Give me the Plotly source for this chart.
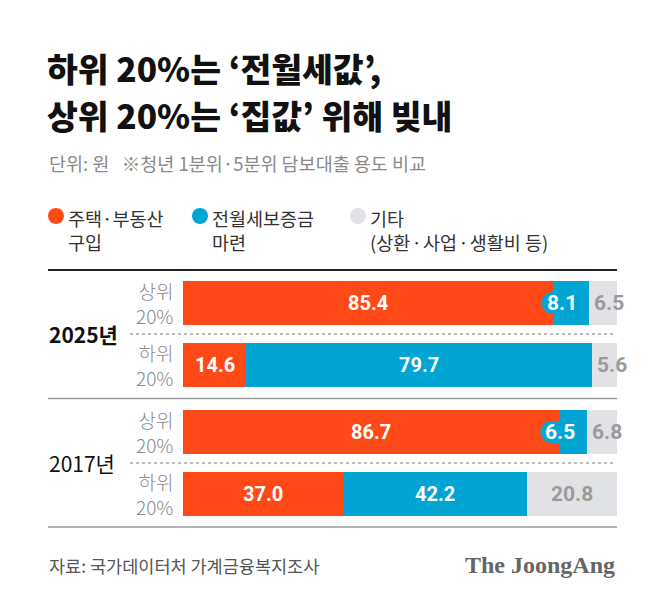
import plotly.graph_objects as go

# ---------------- data ----------------
groups = ["2025년", "2017년"]
row_labels = ["상위<br>20%", "하위<br>20%"]
series_names = ["주택·부동산<br>구입", "전월세보증금<br>마련", "기타<br>(상환\u200a·\u200a사업\u200a·\u200a생활비 등)"]
housing = [85.4, 14.6, 86.7, 37.0]      # 주택·부동산 구입
jeonse = [8.1, 79.7, 6.5, 42.2]         # 전월세보증금 마련
other = [6.5, 5.6, 6.8, 20.8]           # 기타
row_group = [0, 0, 1, 1]
row_in_group = [0, 1, 0, 1]

title_lines = ["하위 20%는 ‘전월세값’,", "상위 20%는 ‘집값’ 위해 빚내"]
subtitle = "단위: 원   ※청년 1분위·5분위 담보대출 용도 비교"
source = "자료: 국가데이터처 가계금융복지조사"
logo = "The JoongAng"

# ---------------- style ----------------
W, H = 650, 597
C_ORANGE = "#FF4A17"
C_BLUE = "#00A5D3"
C_GRAY = "#E1E2E5"
KR = "Noto Sans CJK KR"
NUM = "Roboto"
GROUP_EXTRA = 0.08
BAR_W = 0.71


def px(x):
    return x / W


def py(y):
    return 1 - y / H


series = [housing, jeonse, other]
colors = [C_ORANGE, C_BLUE, C_GRAY]
pos = [row_in_group[i] + row_group[i] * (2 + GROUP_EXTRA) for i in range(len(housing))]

fig = go.Figure()
for vals, col, name in zip(series, colors, series_names):
    fig.add_trace(go.Bar(
        x=vals, y=pos, orientation="h", width=BAR_W,
        marker=dict(color=col, line=dict(width=0)),
        name=name, showlegend=False, hoverinfo="skip",
    ))

annotations = []
shapes = []

# value labels
for i in range(len(pos)):
    start = 0.0
    for s, (vals, col) in enumerate(zip(series, colors)):
        v = vals[i]
        mid = start + v / 2
        end = start + v
        txt = f"{v:.1f}"
        if s == 2:
            if v < 10:
                annotations.append(dict(x=start, y=pos[i], xref="x", yref="y", text=txt,
                                        xanchor="left", xshift=3, showarrow=False,
                                        font=dict(family=NUM, size=21, color="#9A9A9A", weight="bold")))
            else:
                annotations.append(dict(x=mid, y=pos[i], xref="x", yref="y", text=txt,
                                        showarrow=False,
                                        font=dict(family=NUM, size=21, color="#9A9A9A", weight="bold")))
        elif s == 1 and v < 10:
            # rounded pill behind the label (pixel-sized, anchored to segment end)
            r = 11
            x0, x1 = -47, -6
            shapes.append(dict(type="rect", xref="x", yref="y", xsizemode="pixel", ysizemode="pixel",
                               xanchor=end, yanchor=pos[i], x0=x0 + r, x1=x1, y0=-r, y1=r,
                               fillcolor=col, line=dict(width=0), layer="above"))
            shapes.append(dict(type="circle", xref="x", yref="y", xsizemode="pixel", ysizemode="pixel",
                               xanchor=end, yanchor=pos[i], x0=x0, x1=x0 + 2 * r, y0=-r, y1=r,
                               fillcolor=col, line=dict(width=0), layer="above"))
            annotations.append(dict(x=end, y=pos[i], xref="x", yref="y", text=txt,
                                    xanchor="center", xshift=-27, showarrow=False,
                                    font=dict(family=NUM, size=21, color="white", weight="bold")))
        else:
            annotations.append(dict(x=mid, y=pos[i], xref="x", yref="y", text=txt,
                                    showarrow=False,
                                    font=dict(family=NUM, size=20, color="white", weight="bold")))
        start = end

# row labels
for i in range(len(pos)):
    annotations.append(dict(x=px(167), y=pos[i], xref="paper", yref="y",
                            text=row_labels[row_in_group[i]], xanchor="right", align="right",
                            showarrow=False, font=dict(family=KR, size=19, color="#8A8A8A", weight=300)))

# group labels
for g, name in enumerate(groups):
    gy = 0.5 + g * (2 + GROUP_EXTRA)
    annotations.append(dict(x=px(39), y=gy, xref="paper", yref="y", text=name,
                            xanchor="left", showarrow=False,
                            font=dict(family=KR, size=21, color="#111",
                                      weight="bold" if g == 0 else "normal")))
    # dotted separator inside group
    shapes.append(dict(type="line", xref="paper", yref="y", x0=px(122), x1=px(608), y0=gy, y1=gy,
                       line=dict(color="#A8A8A8", width=1.5, dash="dot")))

# rules
shapes.append(dict(type="line", xref="paper", yref="paper", x0=px(40), x1=px(609), y0=py(262), y1=py(262),
                   line=dict(color="#222", width=2)))
shapes.append(dict(type="line", xref="paper", yref="paper", x0=px(40), x1=px(609), y0=py(390.5), y1=py(390.5),
                   line=dict(color="#9A9A9A", width=1.5)))
shapes.append(dict(type="line", xref="paper", yref="paper", x0=px(40), x1=px(609), y0=py(519), y1=py(519),
                   line=dict(color="#9A9A9A", width=1.5)))

# title / subtitle
annotations.append(dict(x=px(37), y=py(60), xref="paper", yref="paper", text=title_lines[0],
                        xanchor="left", yanchor="middle", showarrow=False,
                        font=dict(family=KR, size=33.5, color="#111", weight=900)))
annotations.append(dict(x=px(37), y=py(107), xref="paper", yref="paper", text=title_lines[1],
                        xanchor="left", yanchor="middle", showarrow=False,
                        font=dict(family=KR, size=33.5, color="#111", weight=900)))
annotations.append(dict(x=px(39), y=py(155), xref="paper", yref="paper", text=subtitle,
                        xanchor="left", yanchor="middle", showarrow=False,
                        font=dict(family=KR, size=18.5, color="#8A8A8A")))

# legend
legend_x = [48, 192, 350]
for k, (name, col) in enumerate(zip(series_names, colors)):
    cx, cy, r = legend_x[k], 208, 8
    shapes.append(dict(type="circle", xref="paper", yref="paper",
                       x0=px(cx - r), x1=px(cx + r), y0=py(cy + r), y1=py(cy - r),
                       fillcolor=col, line=dict(width=0)))
    annotations.append(dict(x=px(cx + 10), y=py(195), xref="paper", yref="paper", text=name,
                            xanchor="left", yanchor="top", align="left", showarrow=False,
                            font=dict(family=KR, size=18.5, color="#333")))

# footer
annotations.append(dict(x=px(39), y=py(557), xref="paper", yref="paper", text=source,
                        xanchor="left", yanchor="middle", showarrow=False,
                        font=dict(family=KR, size=17.5, color="#555")))
annotations.append(dict(x=px(609), y=py(557), xref="paper", yref="paper", text=logo,
                        xanchor="right", yanchor="middle", showarrow=False,
                        font=dict(family="Liberation Serif", size=24, color="#666", weight="bold")))

fig.update_layout(
    width=W, height=H, margin=dict(l=0, r=0, t=0, b=0),
    paper_bgcolor="white", plot_bgcolor="white",
    barmode="stack", bargap=0,
    xaxis=dict(domain=[px(175), px(609)], range=[0, 100], visible=False, fixedrange=True),
    yaxis=dict(domain=[py(517), py(264)], range=[3 + GROUP_EXTRA + 0.5, -0.5],
               visible=False, fixedrange=True),
    annotations=annotations, shapes=shapes,
)

fig.write_html("out.html")
